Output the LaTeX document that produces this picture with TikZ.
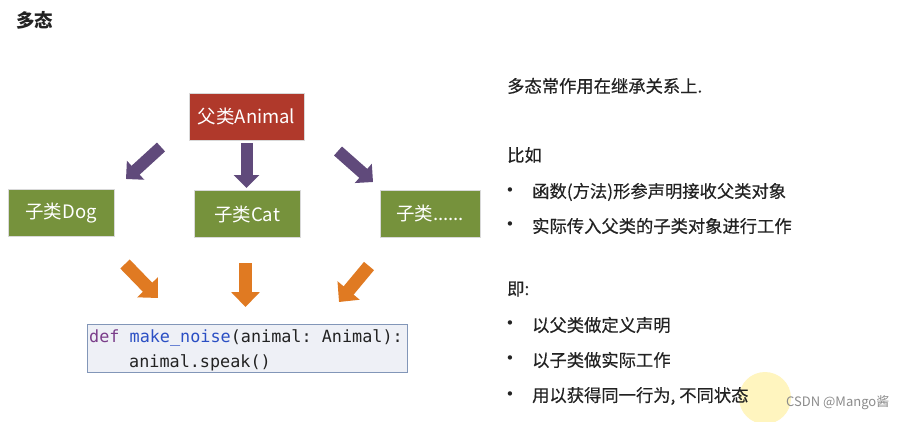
\documentclass[tikz,border=0pt]{standalone}
\usepackage{fontspec}
\setmainfont{Noto Sans CJK SC}
\newfontfamily\bodyfont{Noto Sans CJK SC}[FakeBold=0.4]
\newfontfamily\bulletfont{DejaVu Sans}
\setmonofont{DejaVu Sans Mono}
\usetikzlibrary{arrows.meta}
\definecolor{redbox}{HTML}{B0392B}
\definecolor{greenbox}{HTML}{76923C}
\definecolor{purplearr}{HTML}{604A7B}
\definecolor{orangearr}{HTML}{E07A22}
\definecolor{codebg}{HTML}{EEF0F6}
\definecolor{codeborder}{HTML}{8296B8}
\definecolor{kwpurple}{HTML}{7A3D8A}
\definecolor{fnblue}{HTML}{2B4FC4}
\definecolor{txt}{HTML}{222222}
\definecolor{hilite}{HTML}{FFF5BF}
\tikzset{
  classbox/.style={rectangle, draw=white!85!black, line width=0.6pt, text=white, inner sep=0pt,
    font=\fontsize{18.5}{20}\selectfont},
  parentbox/.style={classbox, fill=redbox, minimum width=115pt, minimum height=47pt},
  childbox/.style={classbox, fill=greenbox, minimum width=106pt, minimum height=47pt},
  purplearrow/.style={draw=purplearr, line width=12pt, -{Triangle[width=25pt,length=13pt]}},
  orangearrow/.style={draw=orangearr, line width=13pt, -{Triangle[width=28pt,length=15pt]}},
  codeline/.style={anchor=base west, inner sep=0pt, text=txt, font=\ttfamily\fontsize{16.8}{20}\selectfont},
  bodytext/.style={anchor=west, inner sep=0pt, text=txt, font=\bodyfont\fontsize{17.3}{20}\selectfont},
  bulletmark/.style={anchor=center, inner sep=0pt, text=txt, font=\bulletfont\fontsize{15}{18}\selectfont},
}
\begin{document}
\begin{tikzpicture}[x=1pt,y=-1pt]
\useasboundingbox (0,0) rectangle (908,421);
\fill[white] (0,0) rectangle (908,421);

% title
\node[anchor=west, inner sep=0pt, text=txt, font=\bfseries\fontsize{18.5}{20}\selectfont] (title) at (16,20) {多态};

% class boxes
\node[parentbox] (animal) at (246.5,116.5) {父类Animal};
\node[childbox] (dog) at (61,213) {子类Dog};
\node[childbox] (cat) at (247,214) {子类Cat};
\node[childbox, minimum width=100pt] (other) at (430,213.5) {子类......};

% code box
\node[rectangle, draw=codeborder, line width=0.8pt, fill=codebg, minimum width=320pt, minimum height=48pt, inner sep=0pt] (code) at (247,348) {};
\node[codeline] (code1) at (89,342) {\textcolor{kwpurple}{def} \textcolor{fnblue}{make\_noise}(animal: Animal):};
\node[codeline] (code2) at (129,367) {animal.speak()};

% purple arrows
\coordinate (p1s) at (161,147);
\coordinate (p1e) at (126,179);
\coordinate (p2s) at (246.5,143);
\coordinate (p2e) at (246.5,188);
\coordinate (p3s) at (338,151);
\coordinate (p3e) at (373,182);
\draw[purplearrow] (p1s) -- (p1e);
\draw[purplearrow] (p2s) -- (p2e);
\draw[purplearrow] (p3s) -- (p3e);

% orange arrows
\coordinate (o1s) at (125,264);
\coordinate (o1e) at (158,298);
\coordinate (o2s) at (245.5,263);
\coordinate (o2e) at (245.5,307);
\coordinate (o3s) at (369,266);
\coordinate (o3e) at (339,302);
\draw[orangearrow] (o1s) -- (o1e);
\draw[orangearrow] (o2s) -- (o2e);
\draw[orangearrow] (o3s) -- (o3e);

% right-hand text
\node[bodytext] (t1) at (507,86) {多态常作用在继承关系上.};
\node[bodytext] (t2) at (507,155) {比如};
\node[bulletmark] (b1) at (510,192) {•};
\node[bodytext] (t3) at (532,192) {函数(方法)形参声明接收父类对象};
\node[bulletmark] (b2) at (510,226) {•};
\node[bodytext] (t4) at (532,226) {实际传入父类的子类对象进行工作};
\node[bodytext] (t5) at (507,289) {即:};
\node[bulletmark] (b3) at (510,325) {•};
\node[bodytext] (t6) at (532,325) {以父类做定义声明};
\node[bulletmark] (b4) at (510,360) {•};
\node[bodytext] (t7) at (532,360) {以子类做实际工作};
\fill[hilite] (765,398) circle (26);
\node[bulletmark] (b5) at (510,396) {•};
\node[bodytext] (t8) at (532,396) {用以获得同一行为, 不同状态};

% watermark
\node[anchor=west, inner sep=0pt, text=black!45, font=\fontsize{13}{15}\selectfont] (wm) at (786,403) {CSDN @Mango酱};
\end{tikzpicture}
\end{document}
